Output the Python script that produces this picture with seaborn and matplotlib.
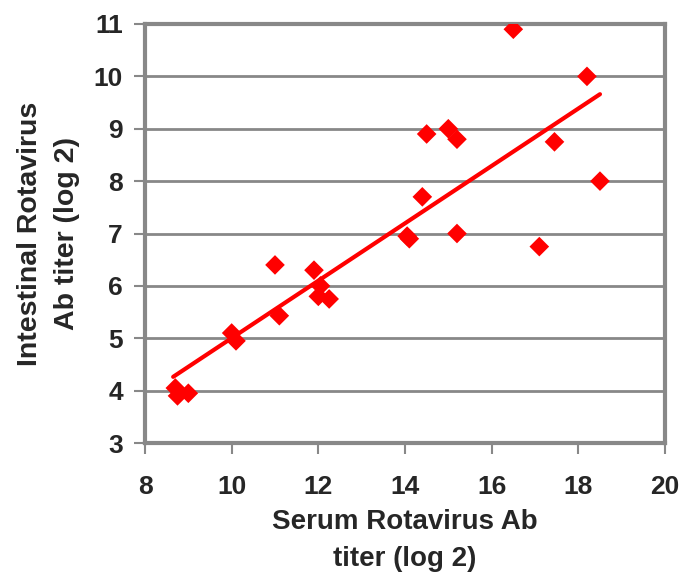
import numpy as np
import pandas as pd
import seaborn as sns
import matplotlib
matplotlib.use("Agg")
import matplotlib.pyplot as plt

# serum vs intestinal rotavirus Ab titers (log 2)
serum = [8.7, 8.75, 9.0, 10.0, 10.1, 11.0, 11.1, 11.9, 12.05, 12.0, 12.25,
         14.05, 14.1, 14.4, 14.5, 15.0, 15.2, 15.2, 16.5, 17.1, 17.45, 18.2, 18.5]
intestinal = [4.05, 3.9, 3.95, 5.1, 4.95, 6.4, 5.43, 6.3, 6.0, 5.8, 5.75,
              6.95, 6.9, 7.7, 8.9, 9.0, 8.8, 7.0, 10.9, 6.75, 8.75, 10.0, 8.0]
x_ticks = [8, 10, 12, 14, 16, 18, 20]
y_ticks = [3, 4, 5, 6, 7, 8, 9, 10, 11]

df = pd.DataFrame({"serum": serum, "intestinal": intestinal})

sns.set_style("white")
plt.rcParams["font.family"] = ["Liberation Sans", "DejaVu Sans"]
plt.rcParams["font.weight"] = "bold"

fig = plt.figure(figsize=(6.83, 5.81), dpi=100)
ax = fig.add_axes([0.2123, 0.2375, 0.7613, 0.7212])

grey = "#888888"
for y in y_ticks[1:-1]:
    ax.axhline(y, color=grey, lw=2, zorder=0)

sns.scatterplot(data=df, x="serum", y="intestinal", marker="D", s=100,
                color="red", edgecolor="none", ax=ax, zorder=3)

# linear trend line fitted to the points
slope, icpt = np.polyfit(df["serum"], df["intestinal"], 1)
xs = np.array([df["serum"].min() - 0.05, df["serum"].max()])
ax.plot(xs, slope * xs + icpt, color="red", lw=3, zorder=2)

ax.set_xlim(8, 20)
ax.set_ylim(3, 11)
ax.set_xticks(x_ticks)
ax.set_yticks(y_ticks)
ax.tick_params(axis="both", direction="out", length=8, width=1.5, color=grey,
               labelsize=19, bottom=True, left=True)
ax.tick_params(axis="x", pad=15)
ax.tick_params(axis="y", pad=8)
for lbl in ax.get_xticklabels() + ax.get_yticklabels():
    lbl.set_fontweight("bold")
for sp in ax.spines.values():
    sp.set_color(grey)
    sp.set_linewidth(3)
    sp.set_visible(True)

ax.set_xlabel("Serum Rotavirus Ab\ntiter (log 2)", fontsize=20, fontweight="bold",
              labelpad=7, linespacing=1.55)
ax.set_ylabel("Intestinal Rotavirus\nAb titer (log 2)", fontsize=20.5, fontweight="bold",
              labelpad=10, linespacing=1.55)

fig.savefig("out.png", dpi=100)
